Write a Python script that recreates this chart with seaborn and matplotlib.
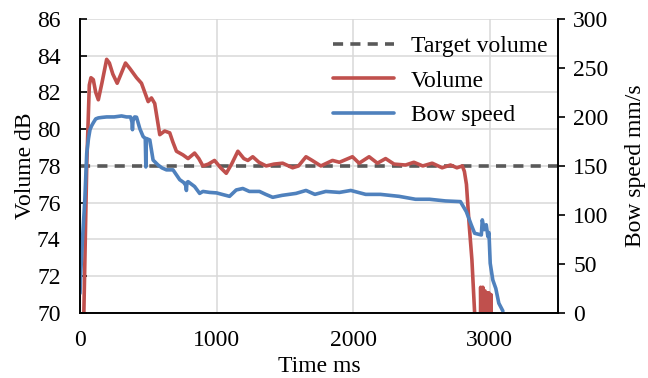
import matplotlib
matplotlib.use("Agg")
import matplotlib.pyplot as plt
import seaborn as sns
import pandas as pd

# Volume trace (dB) against time (ms)
vol_t = [20, 28, 49, 68, 80, 97, 115, 134, 160, 195,
         215, 240, 272, 300, 333, 365, 414, 450, 499, 523,
         547, 584, 620, 657, 680, 706, 754, 791, 839, 870,
         900, 940, 985, 1030, 1071, 1110, 1156, 1200, 1229, 1265,
         1310, 1363, 1420, 1484, 1557, 1600, 1655, 1700, 1764, 1849,
         1900, 1995, 2044, 2117, 2178, 2238, 2300, 2384, 2445, 2510,
         2579, 2652, 2713, 2760, 2800, 2815, 2830, 2850, 2870, 2890,
         2900, 2928, 2934, 2942, 2950, 2958, 2966, 2972, 2978, 2986,
         2994, 3002, 3010, 3016]
vol_db = [60, 70, 78, 82.4, 82.8, 82.7, 82.0, 81.6, 82.5, 83.8,
          83.6, 83.0, 82.5, 83.0, 83.6, 83.3, 82.8, 82.5, 81.5, 81.7,
          81.4, 79.7, 79.9, 79.8, 79.3, 78.8, 78.6, 78.4, 78.7, 78.4,
          78.0, 78.1, 78.3, 77.9, 77.6, 78.1, 78.8, 78.4, 78.3, 78.5,
          78.2, 78.0, 78.1, 78.15, 77.9, 78.0, 78.5, 78.3, 78.0, 78.3,
          78.2, 78.5, 78.15, 78.5, 78.15, 78.4, 78.1, 78.05, 78.2, 78.0,
          78.15, 77.9, 78.05, 77.9, 78.0, 77.7, 77.0, 74.8, 72.9, 70.0,
          60, 60, 71.4, 66, 71.4, 66, 71.2, 60, 71.1, 66,
          71.1, 66, 71.0, 60]

# Bow speed trace (mm/s) against time (ms)
spd_t = [0, 5, 20, 35, 49, 62, 73, 85, 97, 115,
         134, 160, 195, 250, 304, 340, 370, 380, 384, 388,
         400, 414, 438, 462, 478, 482, 486, 511, 535, 571,
         600, 633, 681, 730, 760, 775, 779, 783, 791, 839,
         876, 900, 949, 1000, 1040, 1095, 1144, 1192, 1240, 1314,
         1360, 1411, 1480, 1582, 1655, 1720, 1800, 1900, 1983, 2092,
         2200, 2336, 2457, 2560, 2676, 2786, 2829, 2865, 2890, 2939,
         2946, 2960, 2975, 2987, 2995, 3004, 3023, 3045, 3067, 3097]
spd_v = [20, 40, 80, 115, 163, 178, 187, 191, 194, 198,
         199, 199.5, 200, 200, 201, 200, 200, 195, 187, 196,
         200, 199.7, 188, 180, 178, 149, 178, 176.5, 156, 151,
         148, 146, 146, 136, 133, 130, 125, 133, 134, 129,
         122, 124, 123, 122.5, 121, 119, 125.5, 127, 124, 124,
         121, 118, 120, 122, 125, 121, 124, 123, 125, 121,
         121, 119, 116, 116, 114.3, 113.6, 103.4, 90, 81.3, 79.6,
         95, 85, 90, 78, 82, 50.7, 33.7, 25, 10, 2]

# Target volume level
target_t = [0, 3500]
target_db = [78, 78]

x_ticks = [0, 1000, 2000, 3000]
db_ticks = [70, 72, 74, 76, 78, 80, 82, 84, 86]
spd_ticks = [0, 50, 100, 150, 200, 250, 300]

RED = "#C0504D"
BLUE = "#4F81BD"
DASH = "#595959"
GRID = "#D9D9D9"

sns.set_style("white")
plt.rcParams["font.family"] = ["Liberation Serif", "DejaVu Serif"]
plt.rcParams["font.size"] = 17
plt.rcParams["text.color"] = "black"
plt.rcParams["axes.labelcolor"] = "black"

vol_df = pd.DataFrame({"t": vol_t, "db": vol_db})
spd_df = pd.DataFrame({"t": spd_t, "v": spd_v})
tgt_df = pd.DataFrame({"t": target_t, "db": target_db})

fig = plt.figure(figsize=(6.48, 3.78), dpi=100)
ax = fig.add_axes([0.1235, 0.172, 0.7375, 0.778])
ax2 = ax.twinx()

LW = 2.6
sns.lineplot(data=tgt_df, x="t", y="db", ax=ax, color=DASH, lw=LW,
             linestyle=(0, (2.8, 2.0)), label="Target volume", legend=False)
sns.lineplot(data=vol_df, x="t", y="db", ax=ax, color=RED, lw=LW,
             label="Volume", legend=False, sort=False,
             solid_joinstyle="round", solid_capstyle="round")
sns.lineplot(data=spd_df, x="t", y="v", ax=ax2, color=BLUE, lw=LW,
             label="Bow speed", legend=False, sort=False,
             solid_joinstyle="round", solid_capstyle="round")

ax.set_xlim(0, 3500)
ax.set_ylim(70, 86)
ax2.set_ylim(0, 300)
ax.set_xticks(x_ticks)
ax.set_yticks(db_ticks)
ax2.set_yticks(spd_ticks)

ax.grid(True, color=GRID, lw=1.1)
ax.set_axisbelow(True)
ax2.grid(False)

ax.set_xlabel("Time ms", labelpad=4, color="black")
ax.set_ylabel("Volume dB", labelpad=1, color="black")
ax2.set_ylabel("Bow speed mm/s", labelpad=12, color="black")

for a in (ax, ax2):
    a.spines["top"].set_visible(False)
    for s in ("left", "bottom", "right"):
        a.spines[s].set_color("black")
        a.spines[s].set_linewidth(1.2)

ax.tick_params(axis="x", direction="in", length=5, width=1.2, pad=12, colors="black")
ax.tick_params(axis="y", direction="in", length=5, width=1.2, pad=14, colors="black")
ax2.tick_params(axis="y", direction="out", length=5, width=1.2, pad=6, colors="black")

h1, l1 = ax.get_legend_handles_labels()
h2, l2 = ax2.get_legend_handles_labels()
leg = ax2.legend(h1 + h2, l1 + l2, loc="upper right", frameon=False,
                 handlelength=2.6, handletextpad=0.7, labelspacing=0.56,
                 borderaxespad=0.3, bbox_to_anchor=(1.013, 1.0))
for txt in leg.get_texts():
    txt.set_color("black")

fig.savefig("out.png", dpi=100)
